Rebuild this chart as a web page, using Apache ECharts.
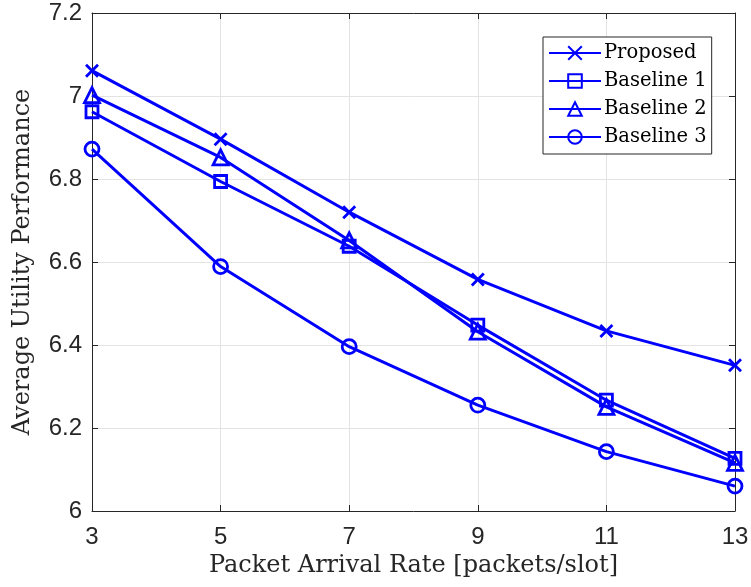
<!DOCTYPE html>
<html>
<head>
<meta charset="utf-8">
<script src="https://cdn.jsdelivr.net/npm/echarts@6/dist/echarts.min.js"></script>
<style>
  html, body { margin: 0; padding: 0; background: #fff; }
  #main { width: 751px; height: 587px; }
</style>
</head>
<body>
<div id="main"></div>
<script>
var rates = ['3', '5', '7', '9', '11', '13'];
var proposed = [7.061, 6.896, 6.720, 6.558, 6.434, 6.351];
var baseline1 = [6.962, 6.794, 6.638, 6.448, 6.267, 6.127];
var baseline2 = [7.002, 6.852, 6.652, 6.432, 6.251, 6.116];
var baseline3 = [6.872, 6.589, 6.396, 6.255, 6.143, 6.060];
var yTicks = [6, 6.2, 6.4, 6.6, 6.8, 7, 7.2];

var blue = '#0000ff';
var axisGrey = '#262626';
var crossPath = 'path://M0,0L10,10M10,0L0,10';

var myChart = echarts.init(document.getElementById('main'));

function makeSeries(name, data, symbol, size) {
  return {
    name: name,
    type: 'line',
    data: data,
    symbol: symbol,
    symbolSize: size,
    showAllSymbol: true,
    lineStyle: { color: blue, width: 3 },
    itemStyle: { color: 'rgba(0,0,0,0)', borderColor: blue, borderWidth: 2.8 },
    emphasis: { disabled: true },
    animation: false,
    z: 3
  };
}

var option = {
  backgroundColor: '#fff',
  grid: { left: 92, right: 16, top: 13, bottom: 76, containLabel: false, outerBoundsMode: 'none' },
  legend: {
    left: 543,
    top: 37,
    orient: 'vertical',
    backgroundColor: '#fff',
    borderColor: axisGrey,
    borderWidth: 1,
    borderRadius: 0,
    padding: [6, 5, 7, 5],
    itemWidth: 52,
    itemHeight: 17,
    itemGap: 8,
    textStyle: { fontFamily: 'DejaVu Serif', fontSize: 19.5, lineHeight: 20, color: '#000', padding: [0, 0, 0, -2] },
    data: ['Proposed', 'Baseline 1', 'Baseline 2', 'Baseline 3']
  },
  xAxis: [{
    type: 'category',
    data: rates,
    boundaryGap: false,
    name: 'Packet Arrival Rate [packets/slot]',
    nameLocation: 'middle',
    nameGap: 43,
    nameTextStyle: { fontFamily: 'DejaVu Serif', fontSize: 24, color: axisGrey },
    axisLine: { lineStyle: { color: axisGrey, width: 1 } },
    axisTick: { inside: true, length: 6, lineStyle: { color: axisGrey } },
    axisLabel: { fontFamily: 'Liberation Sans', fontSize: 24, color: axisGrey, margin: 14 },
    splitLine: { show: true, lineStyle: { color: '#e3e3e3', width: 1 } }
  }, {
    type: 'category',
    data: rates,
    boundaryGap: false,
    position: 'top',
    axisLine: { lineStyle: { color: axisGrey, width: 1 } },
    axisTick: { inside: true, length: 6, lineStyle: { color: axisGrey } },
    axisLabel: { show: false },
    splitLine: { show: false }
  }],
  yAxis: [{
    type: 'value',
    min: yTicks[0],
    max: yTicks[yTicks.length - 1],
    interval: 0.2,
    name: 'Average Utility Performance',
    nameLocation: 'middle',
    nameGap: 57,
    nameTextStyle: { fontFamily: 'DejaVu Serif', fontSize: 24, color: axisGrey },
    axisLine: { show: true, lineStyle: { color: axisGrey, width: 1 } },
    axisTick: { show: true, inside: true, length: 6, lineStyle: { color: axisGrey } },
    axisLabel: {
      fontFamily: 'Liberation Sans', fontSize: 24, color: axisGrey, margin: 10,
      formatter: function (v) { return String(Math.round(v * 10) / 10); }
    },
    splitLine: { show: true, lineStyle: { color: '#e3e3e3', width: 1 } }
  }, {
    type: 'value',
    min: yTicks[0],
    max: yTicks[yTicks.length - 1],
    interval: 0.2,
    position: 'right',
    axisLine: { show: true, lineStyle: { color: axisGrey, width: 1 } },
    axisTick: { show: true, inside: true, length: 6, lineStyle: { color: axisGrey } },
    axisLabel: { show: false },
    splitLine: { show: false }
  }],
  series: [
    makeSeries('Proposed', proposed, crossPath, 12),
    makeSeries('Baseline 1', baseline1, 'rect', 12),
    makeSeries('Baseline 2', baseline2, 'triangle', 15),
    makeSeries('Baseline 3', baseline3, 'circle', 14)
  ]
};

myChart.setOption(option);
</script>
</body>
</html>
